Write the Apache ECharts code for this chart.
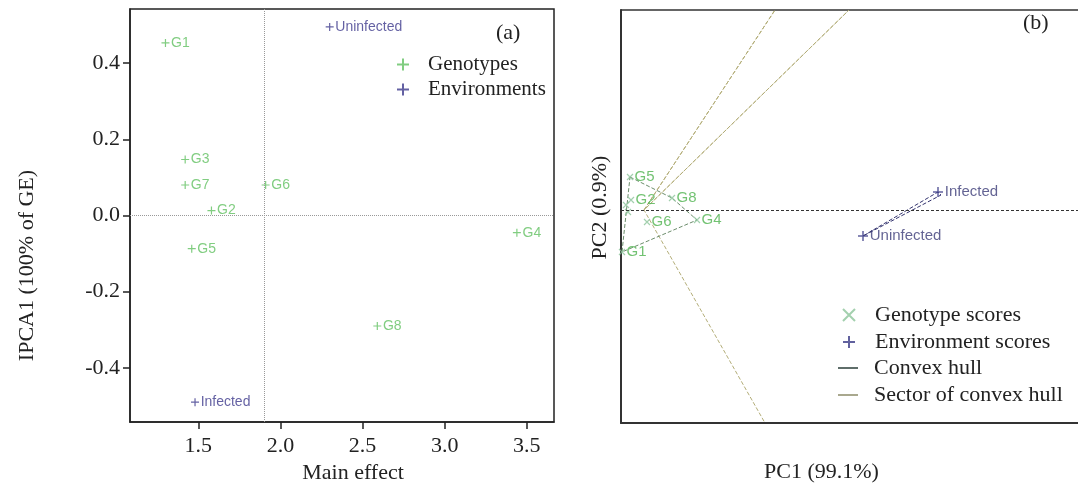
<!DOCTYPE html>
<html>
<head>
<meta charset="utf-8">
<script src="https://cdn.jsdelivr.net/npm/echarts@6/dist/echarts.min.js"></script>
<style>
html, body { margin: 0; padding: 0; background: #fff; }
#chart { width: 1078px; height: 489px; }
</style>
</head>
<body>
<div id="chart"></div>
<script>
// (a) AMMI1 biplot: main effect vs IPCA1
var genoNames = ['G1', 'G2', 'G3', 'G4', 'G5', 'G6', 'G7', 'G8'];
var genoMain = [1.30, 1.58, 1.42, 3.44, 1.46, 1.91, 1.42, 2.59];
var genoIpca = [0.453, 0.013, 0.147, -0.045, -0.087, 0.08, 0.08, -0.29];
var envNames = ['Uninfected', 'Infected'];
var envMain = [2.30, 1.48];
var envIpca = [0.495, -0.49];
var grandMean = 1.896;
var mainTicks = [1.5, 2.0, 2.5, 3.0, 3.5];
var ipcaTicks = [-0.4, -0.2, 0.0, 0.2, 0.4];

// (b) GGE biplot: PC1 vs PC2
var genoPc1 = [-0.22, -0.13, -0.18, 0.53, -0.14, 0.03, -0.16, 0.28];
var genoPc2 = [-0.42, 0.10, 0.05, -0.10, 0.33, -0.12, -0.02, 0.12];
var envPc1 = [2.19, 2.94];
var envPc2 = [-0.26, 0.18];
var hullOrder = ['G5', 'G8', 'G4', 'G1', 'G5'];
var envHullPc1 = [2.19, 2.94, 2.97, 2.19];
var envHullPc2 = [-0.26, 0.18, 0.15, -0.26];
var sectorEnds = [[1.31, 2.0], [2.05, 2.0], [1.21, -2.13]];
var hiddenLabelsB = ['G3', 'G7'];

var serif = "'Liberation Serif', 'Times New Roman', serif";
var sans = "'Liberation Sans', Arial, sans-serif";
var green = '#62c062';
var navy = '#3d3a8c';
var plusIcon = 'path://M0 5L10 5M5 0L5 10';
var crossIcon = 'path://M0 0L10 10M10 0L0 10';

var chart = echarts.init(document.getElementById('chart'));

var hullData = hullOrder.map(function (n) {
  var i = genoNames.indexOf(n);
  return [genoPc1[i], genoPc2[i]];
});
var sectorData = [];
sectorEnds.forEach(function (e) {
  sectorData.push([0, 0], e);
});

var option = {
  animation: false,
  title: [
    { text: '(a)', left: 496, top: 22, padding: 0,
      textStyle: { fontFamily: serif, fontSize: 22, fontWeight: 'normal', color: '#222' } },
    { text: '(b)', left: 1023, top: 12, padding: 0,
      textStyle: { fontFamily: serif, fontSize: 22, fontWeight: 'normal', color: '#222' } }
  ],
  legend: [
    {
      data: ['Genotypes', 'Environments'],
      orient: 'vertical', left: 396, top: 54, padding: 0, itemGap: 4,
      itemWidth: 12, itemHeight: 12,
      textStyle: { fontFamily: serif, fontSize: 21, color: '#222', padding: [0, 0, 0, 14] }
    },
    {
      data: ['Genotype scores', 'Environment scores'],
      orient: 'vertical', left: 842, top: 304, padding: 0, itemGap: 5,
      itemWidth: 12, itemHeight: 12,
      textStyle: { fontFamily: serif, fontSize: 22, color: '#222', padding: [0, 0, 0, 15] }
    },
    {
      data: ['Convex hull', 'Sector of convex hull'],
      orient: 'vertical', left: 838, top: 357, padding: 0, itemGap: 5,
      itemWidth: 20, itemHeight: 2, icon: 'rect',
      textStyle: { fontFamily: serif, fontSize: 22, color: '#222', padding: [0, 0, 0, 11] }
    }
  ],
  grid: [
    { left: 130, top: 9, width: 424, height: 413, show: true, borderColor: '#222', borderWidth: 1.5 },
    { left: 621, top: 10, width: 457, height: 413, show: false }
  ],
  xAxis: [
    {
      gridIndex: 0, type: 'value', min: 1.084, max: 3.666,
      name: 'Main effect', nameLocation: 'middle', nameGap: 37,
      nameTextStyle: { fontFamily: serif, fontSize: 22, color: '#222', padding: [0, 0, 0, 22] },
      axisLine: { show: true, onZero: false, lineStyle: { color: '#222', width: 1.5 } },
      axisTick: { show: true, inside: false, length: 7, customValues: mainTicks, lineStyle: { color: '#222', width: 1.5 } },
      axisLabel: { customValues: mainTicks, margin: 13, fontFamily: serif, fontSize: 22, color: '#222',
        formatter: function (v) { return v.toFixed(1); } },
      splitLine: { show: false }
    },
    {
      gridIndex: 1, type: 'value', min: -0.23, max: 4.34,
      name: 'PC1 (99.1%)', nameLocation: 'middle', nameGap: 38,
      nameTextStyle: { fontFamily: serif, fontSize: 22, color: '#222', padding: [0, 56, 0, 0] },
      axisLine: { show: true, onZero: false, lineStyle: { color: '#333', width: 2 } },
      axisTick: { show: false }, axisLabel: { show: false }, splitLine: { show: false }
    },
    {
      gridIndex: 1, type: 'value', min: -0.23, max: 4.34, position: 'top',
      axisLine: { show: true, onZero: false, lineStyle: { color: '#333', width: 1.5 } },
      axisTick: { show: false }, axisLabel: { show: false }, splitLine: { show: false }
    }
  ],
  yAxis: [
    {
      gridIndex: 0, type: 'value', min: -0.542, max: 0.542,
      name: 'IPCA1 (100% of GE)', nameLocation: 'middle', nameGap: 92,
      nameTextStyle: { fontFamily: serif, fontSize: 22, color: '#222', padding: [0, 100, 0, 0] },
      axisLine: { show: true, onZero: false, lineStyle: { color: '#222', width: 1.5 } },
      axisTick: { show: true, inside: false, length: 7, customValues: ipcaTicks, lineStyle: { color: '#222', width: 1.5 } },
      axisLabel: { customValues: ipcaTicks, margin: 10, fontFamily: serif, fontSize: 22, color: '#222',
        formatter: function (v) { return v.toFixed(1); } },
      splitLine: { show: false }
    },
    {
      gridIndex: 1, type: 'value', min: -2.13, max: 2.0,
      name: 'PC2 (0.9%)', nameLocation: 'middle', nameGap: 10,
      nameTextStyle: { fontFamily: serif, fontSize: 22, color: '#222', padding: [0, 0, 0, 18] },
      axisLine: { show: true, onZero: false, lineStyle: { color: '#333', width: 2 } },
      axisTick: { show: false }, axisLabel: { show: false }, splitLine: { show: false }
    }
  ],
  series: [
    {
      name: 'Genotypes', type: 'scatter', xAxisIndex: 0, yAxisIndex: 0,
      symbol: plusIcon, symbolSize: 8,
      itemStyle: { color: 'rgba(0,0,0,0)', borderColor: green, borderWidth: 1.2 },
      label: { show: true, position: 'right', distance: 1, formatter: '{b}',
        color: green, fontFamily: sans, fontSize: 14 },
      data: genoNames.map(function (n, i) { return { name: n, value: [genoMain[i], genoIpca[i]] }; }),
      markLine: {
        silent: true, symbol: 'none', label: { show: false },
        lineStyle: { color: '#999', type: 'dotted', width: 1 },
        data: [{ xAxis: grandMean }, { yAxis: 0 }]
      }
    },
    {
      name: 'Environments', type: 'scatter', xAxisIndex: 0, yAxisIndex: 0,
      symbol: plusIcon, symbolSize: 8,
      itemStyle: { color: 'rgba(0,0,0,0)', borderColor: navy, borderWidth: 1.2 },
      label: { show: true, position: 'right', distance: 1, formatter: '{b}',
        color: navy, fontFamily: sans, fontSize: 14 },
      data: envNames.map(function (n, i) { return { name: n, value: [envMain[i], envIpca[i]] }; })
    },
    {
      name: 'Convex hull', type: 'line', xAxisIndex: 1, yAxisIndex: 1,
      color: '#5f6e6a', symbol: 'none', z: 2,
      lineStyle: { color: '#6b8c6b', width: 1, type: [4, 2] },
      data: hullData
    },
    {
      name: 'Convex hull', type: 'line', xAxisIndex: 1, yAxisIndex: 1,
      color: '#5f6e6a', symbol: 'none', z: 2,
      lineStyle: { color: '#33336e', width: 1, type: [4, 2] },
      data: envHullPc1.map(function (v, i) { return [v, envHullPc2[i]]; })
    },
    {
      name: 'Sector of convex hull', type: 'line', xAxisIndex: 1, yAxisIndex: 1,
      color: '#a9a88e', symbol: 'none', z: 1,
      lineStyle: { color: '#b3ad78', width: 1, type: [4, 2] },
      data: sectorData,
      markLine: {
        silent: true, symbol: 'none', label: { show: false },
        lineStyle: { color: '#333', type: [3, 2], width: 1 },
        data: [{ yAxis: 0 }]
      }
    },
    {
      name: 'Genotype scores', type: 'scatter', xAxisIndex: 1, yAxisIndex: 1,
      symbol: crossIcon, symbolSize: 6, z: 3,
      itemStyle: { color: 'rgba(0,0,0,0)', borderColor: '#8cc49a', borderWidth: 1.2 },
      label: {
        show: true, position: 'right', distance: 1, color: '#4fb34f', fontFamily: sans, fontSize: 15,
        formatter: function (p) { return hiddenLabelsB.indexOf(p.name) >= 0 ? '' : p.name; }
      },
      data: genoNames.map(function (n, i) { return { name: n, value: [genoPc1[i], genoPc2[i]] }; })
    },
    {
      name: 'Environment scores', type: 'scatter', xAxisIndex: 1, yAxisIndex: 1,
      symbol: plusIcon, symbolSize: 10, z: 3,
      itemStyle: { color: 'rgba(0,0,0,0)', borderColor: '#3a3a86', borderWidth: 1.5 },
      label: { show: true, position: 'right', distance: 1, formatter: '{b}',
        color: '#3c3c78', fontFamily: sans, fontSize: 15 },
      data: envNames.map(function (n, i) { return { name: n, value: [envPc1[i], envPc2[i]] }; })
    }
  ]
};

chart.setOption(option);
</script>
</body>
</html>
